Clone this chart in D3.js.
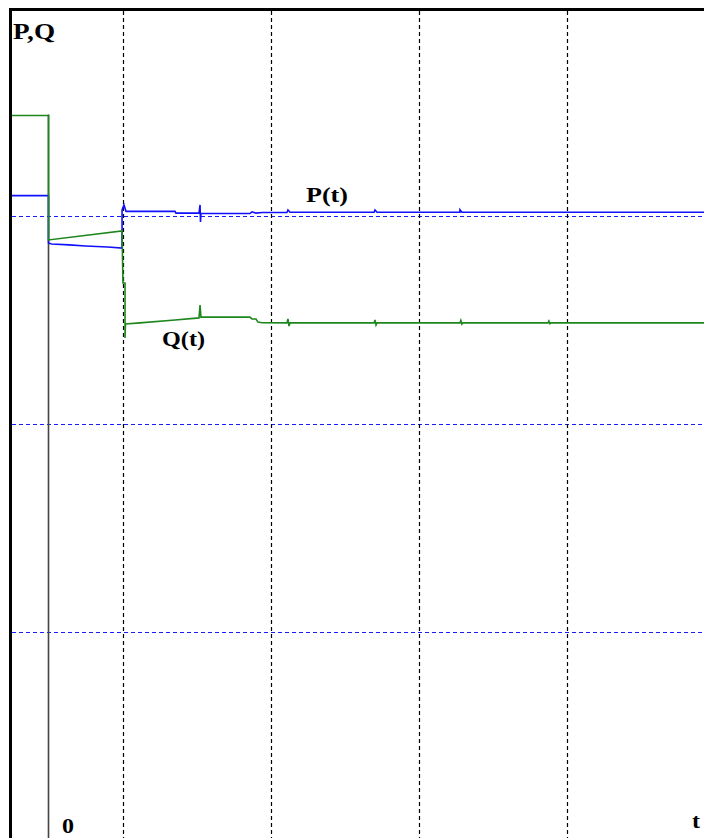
<!DOCTYPE html>
<html>
<head>
<meta charset="utf-8">
<script src="https://cdn.jsdelivr.net/npm/d3@7"></script>
<style>
  body { margin: 0; background: #fff; }
  svg { display: block; }
  text { font-family: "Liberation Serif", "Times New Roman", serif; font-weight: bold; fill: #000; }
</style>
</head>
<body>
<div id="chart"></div>
<script>
// grid positions (time units, value units)
const timeGrid = [0.5, 1.5, 2.5, 3.5];
const valueGrid = [-1, 0, 1];

// P(t): [t, value]
const pSeries = [
  [-0.26, 1.098], [0, 1.098], [0, 0.87], [0.02, 0.865], [0.14, 0.861], [0.25, 0.856],
  [0.4, 0.851], [0.497, 0.846], [0.497, 1.029], [0.51, 1.053], [0.524, 1.022],
  [0.855, 1.022], [0.861, 1.014], [1.017, 1.014], [1.024, 1.053], [1.027, 0.971],
  [1.03, 1.012], [1.361, 1.012], [1.375, 1.02], [1.402, 1.014], [1.443, 1.017],
  [1.611, 1.017], [1.618, 1.029], [1.632, 1.018], [2.2, 1.018], [2.206, 1.029],
  [2.22, 1.018], [2.78, 1.018], [2.78, 1.03], [2.794, 1.018], [4.43, 1.018]
];

// Q(t): [t, value]
const qSeries = [
  [-0.26, 1.483], [0, 1.483], [0, 0.885], [0.497, 0.928], [0.503, 0.678],
  [0.517, 0.678], [0.517, 0.413], [0.52, 0.481], [0.618, 0.486], [0.855, 0.5],
  [1.017, 0.51], [1.024, 0.572], [1.03, 0.514], [1.361, 0.514], [1.375, 0.505],
  [1.402, 0.505], [1.415, 0.49], [1.443, 0.487], [1.611, 0.486], [1.618, 0.505],
  [1.625, 0.471], [1.632, 0.486], [2.2, 0.486], [2.206, 0.5], [2.213, 0.476],
  [2.22, 0.486], [2.78, 0.486], [2.786, 0.498], [2.793, 0.48], [2.8, 0.486],
  [3.375, 0.486], [3.381, 0.495], [3.388, 0.482], [3.395, 0.486], [4.43, 0.486]
];

const width = 704, height = 838;

const svg = d3.select('#chart')
  .append('svg')
  .attr('width', width)
  .attr('height', height);

const x = d3.scaleLinear().domain([0, 4]).range([48.5, 640.5]);
const y = d3.scaleLinear().domain([-1, 2]).range([632, 8]);

// horizontal blue dashed grid
svg.append('g')
  .selectAll('line')
  .data(valueGrid)
  .enter().append('line')
  .attr('x1', 12).attr('x2', width)
  .attr('y1', d => y(d) + 0.5).attr('y2', d => y(d) + 0.5)
  .style('stroke', '#1a1aff')
  .style('stroke-width', 1.2)
  .style('stroke-dasharray', '4,3');

// vertical black dashed grid
svg.append('g')
  .selectAll('line')
  .data(timeGrid)
  .enter().append('line')
  .attr('x1', d => Math.round(x(d)) + 0.5).attr('x2', d => Math.round(x(d)) + 0.5)
  .attr('y1', 11).attr('y2', height)
  .style('stroke', '#000')
  .style('stroke-width', 1.2)
  .style('stroke-dasharray', '4,3');

// t = 0 axis
svg.append('line')
  .attr('x1', x(0)).attr('x2', x(0))
  .attr('y1', y(qSeries[0][1]) - 1).attr('y2', height)
  .style('stroke', '#444')
  .style('stroke-width', 1.6);

const line = d3.line()
  .x(d => x(d[0]))
  .y(d => y(d[1]));

svg.append('path')
  .datum(pSeries)
  .attr('d', line)
  .style('fill', 'none')
  .style('stroke', '#1010ff')
  .style('stroke-width', 1.6);

svg.append('path')
  .datum(qSeries)
  .attr('d', line)
  .style('fill', 'none')
  .style('stroke', '#1d871d')
  .style('stroke-width', 1.6);

// frame (left and top)
svg.append('line')
  .attr('x1', 10.5).attr('x2', 10.5).attr('y1', 8).attr('y2', height)
  .style('stroke', '#000').style('stroke-width', 3);
svg.append('line')
  .attr('x1', 9).attr('x2', width).attr('y1', 9.5).attr('y2', 9.5)
  .style('stroke', '#000').style('stroke-width', 3);

// labels
const labels = [
  { text: 'P,Q', x: 13, y: 39, size: 23, len: 42 },
  { text: 'P(t)', x: 306, y: 202, size: 21, len: 42 },
  { text: 'Q(t)', x: 162, y: 346, size: 22, len: 43 },
  { text: '0', x: 62, y: 833, size: 22, len: 12 },
  { text: 't', x: 692, y: 828, size: 22, len: 8 }
];

svg.append('g')
  .selectAll('text')
  .data(labels)
  .enter().append('text')
  .attr('x', d => d.x)
  .attr('y', d => d.y)
  .attr('textLength', d => d.len)
  .attr('lengthAdjust', 'spacingAndGlyphs')
  .style('font-size', d => d.size + 'px')
  .text(d => d.text);
</script>
</body>
</html>
